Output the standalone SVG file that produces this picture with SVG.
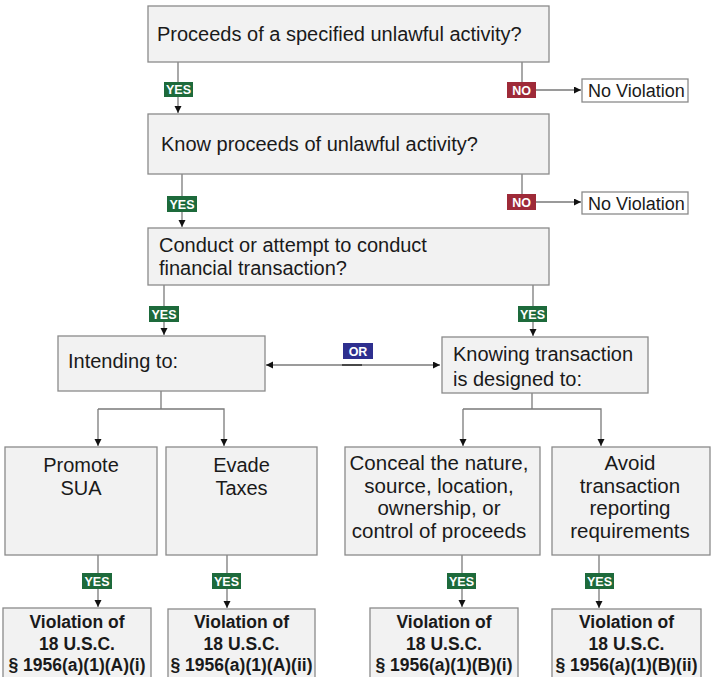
<svg xmlns="http://www.w3.org/2000/svg" width="713" height="677" viewBox="0 0 713 677">
<style>
.box{fill:#f2f2f2;stroke:#8a8a8a;stroke-width:1.3}
.nv{fill:#ffffff;stroke:#8a8a8a;stroke-width:1.3}
.t{font-family:"Liberation Sans",Arial,sans-serif;font-size:20px;fill:#1a1a1a}
.tc{font-family:"Liberation Sans",Arial,sans-serif;font-size:20px;fill:#1a1a1a;text-anchor:middle}
.tc2{font-family:"Liberation Sans",Arial,sans-serif;font-size:20.5px;fill:#1a1a1a;text-anchor:middle}
.tn{font-family:"Liberation Sans",Arial,sans-serif;font-size:18px;fill:#1a1a1a}
.tb{font-family:"Liberation Sans",Arial,sans-serif;font-size:17.5px;font-weight:bold;fill:#1a1a1a;text-anchor:middle}
.ln{fill:none;stroke:#7a7a7a;stroke-width:1.3}
.arr{marker-end:url(#ah)}
.lbl{font-family:"Liberation Sans",Arial,sans-serif;font-size:12.5px;font-weight:bold;fill:#ffffff;text-anchor:middle}
.yes{fill:#1d6a3b}
.no{fill:#9e2a38}
.or{fill:#2e2f8f}
</style>
<defs>
<marker id="ah" markerUnits="userSpaceOnUse" markerWidth="8" markerHeight="8" refX="7" refY="3.5" orient="auto-start-reverse">
<path d="M0,0 L7,3.5 L0,7 z" fill="#111"/>
</marker>
</defs>

<g id="connectors">
<path class="ln arr" d="M178,62 V113"/>
<path class="ln arr" d="M522,62 V90 H581"/>
<path class="ln arr" d="M182,174 V227"/>
<path class="ln arr" d="M522,174 V202 H581"/>
<path class="ln arr" d="M164,285 V335"/>
<path class="ln arr" d="M533,285 V336"/>
<path class="ln" d="M266,365 H440" marker-start="url(#ah)" marker-end="url(#ah)"/>
<path d="M342,365 H362" stroke="#333" stroke-width="1.6"/>
<path class="ln" d="M161,391 V409"/>
<path class="ln arr" d="M98,409 H224 V446"/>
<path class="ln arr" d="M98,409 V446"/>
<path class="ln" d="M532,393 V409"/>
<path class="ln arr" d="M463,409 H601 V446"/>
<path class="ln arr" d="M463,409 V446"/>
<path class="ln arr" d="M98,555 V607"/>
<path class="ln arr" d="M227,555 V608"/>
<path class="ln arr" d="M462,555 V607"/>
<path class="ln arr" d="M599,555 V608"/>

<g id="lbl-yes1"><rect class="yes" x="164" y="82" width="29" height="15"/><text class="lbl" x="178.5" y="94">YES</text></g>
<g id="lbl-no1"><rect class="no" x="507" y="82" width="29" height="16"/><text class="lbl" x="521.5" y="94.5">NO</text></g>
<g id="lbl-yes2"><rect class="yes" x="167" y="196" width="30" height="16"/><text class="lbl" x="182" y="208.5">YES</text></g>
<g id="lbl-no2"><rect class="no" x="507" y="194" width="29" height="16"/><text class="lbl" x="521.5" y="206.5">NO</text></g>
<g id="lbl-yes3"><rect class="yes" x="149" y="306" width="30" height="16"/><text class="lbl" x="164" y="318.5">YES</text></g>
<g id="lbl-yes4"><rect class="yes" x="518" y="306" width="29" height="16"/><text class="lbl" x="532.5" y="318.5">YES</text></g>
<g id="lbl-or"><rect class="or" x="343" y="343" width="30" height="16"/><text class="lbl" x="358" y="355.5">OR</text></g>
<g id="lbl-yes5"><rect class="yes" x="82" y="573" width="30" height="16"/><text class="lbl" x="97" y="585.5">YES</text></g>
<g id="lbl-yes6"><rect class="yes" x="212" y="573" width="29" height="16"/><text class="lbl" x="226.5" y="585.5">YES</text></g>
<g id="lbl-yes7"><rect class="yes" x="447" y="573" width="29" height="16"/><text class="lbl" x="461.5" y="585.5">YES</text></g>
<g id="lbl-yes8"><rect class="yes" x="585" y="573" width="29" height="16"/><text class="lbl" x="599.5" y="585.5">YES</text></g>
</g>

<g id="n1"><rect class="box" x="148" y="6" width="401" height="56"/><text class="t" x="157" y="41">Proceeds of a specified unlawful activity?</text></g>
<g id="nv1"><rect class="nv" x="582" y="79" width="106" height="23"/><text class="tn" x="588" y="97">No Violation</text></g>
<g id="n2"><rect class="box" x="148" y="114" width="401" height="60"/><text class="t" x="161" y="151">Know proceeds of unlawful activity?</text></g>
<g id="nv2"><rect class="nv" x="582" y="192" width="106" height="22"/><text class="tn" x="588" y="210">No Violation</text></g>
<g id="n3"><rect class="box" x="148" y="228" width="401" height="57"/><text class="t" x="159" y="252">Conduct or attempt to conduct</text><text class="t" x="159" y="275">financial transaction?</text></g>
<g id="n4"><rect class="box" x="58" y="336" width="207" height="55"/><text class="t" x="68" y="368">Intending to:</text></g>
<g id="n5"><rect class="box" x="442" y="337" width="206" height="56"/><text class="t" x="453" y="361">Knowing transaction</text><text class="t" x="453" y="386">is designed to:</text></g>
<g id="n6"><rect class="box" x="5" y="447" width="152" height="108"/><text class="tc" x="81" y="472">Promote</text><text class="tc" x="81" y="495">SUA</text></g>
<g id="n7"><rect class="box" x="166" y="447" width="151" height="108"/><text class="tc" x="241.5" y="472">Evade</text><text class="tc" x="241.5" y="495">Taxes</text></g>
<g id="n8"><rect class="box" x="345" y="447" width="195" height="108"/><text class="tc2" x="439" y="470">Conceal the nature,</text><text class="tc2" x="439" y="493">source, location,</text><text class="tc2" x="439" y="515">ownership, or</text><text class="tc2" x="439" y="538">control of proceeds</text></g>
<g id="n9"><rect class="box" x="552" y="447" width="158" height="108"/><text class="tc2" x="630" y="470">Avoid</text><text class="tc2" x="630" y="493">transaction</text><text class="tc2" x="630" y="515">reporting</text><text class="tc2" x="630" y="538">requirements</text></g>
<g id="v1"><rect class="box" x="3" y="608" width="148" height="80"/><text class="tb" x="77" y="628">Violation of</text><text class="tb" x="77" y="650">18 U.S.C.</text><text class="tb" x="77" y="671">§ 1956(a)(1)(A)(i)</text></g>
<g id="v2"><rect class="box" x="168" y="609" width="147" height="80"/><text class="tb" x="241.5" y="628">Violation of</text><text class="tb" x="241.5" y="650">18 U.S.C.</text><text class="tb" x="241.5" y="671">§ 1956(a)(1)(A)(ii)</text></g>
<g id="v3"><rect class="box" x="370" y="608" width="148" height="80"/><text class="tb" x="444" y="628">Violation of</text><text class="tb" x="444" y="650">18 U.S.C.</text><text class="tb" x="444" y="671">§ 1956(a)(1)(B)(i)</text></g>
<g id="v4"><rect class="box" x="552" y="609" width="149" height="80"/><text class="tb" x="626.5" y="628">Violation of</text><text class="tb" x="626.5" y="650">18 U.S.C.</text><text class="tb" x="626.5" y="671">§ 1956(a)(1)(B)(ii)</text></g>
</svg>
